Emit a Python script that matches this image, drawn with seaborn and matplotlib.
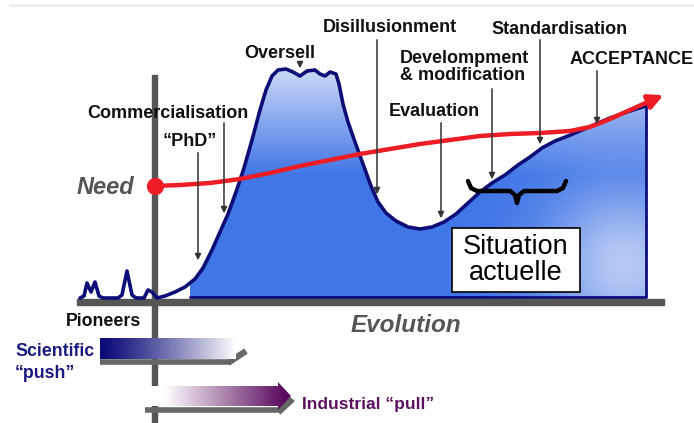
import numpy as np
import matplotlib.pyplot as plt
import seaborn as sns
from matplotlib.patches import Polygon, Rectangle
from matplotlib.colors import to_rgb

# ---- diagram data (image pixel space, y grows downward) ----
curve_x = [80, 84, 87, 91, 95, 99, 103, 118, 122, 127, 132, 136, 144, 148, 152, 157,
           165, 175, 185, 195, 203, 212, 220, 228, 236, 244, 252, 260, 266, 272, 278,
           286, 293, 300, 307, 315, 320, 325, 330, 336, 339, 343, 348, 355, 363, 371,
           378, 386, 396, 408, 420, 432, 444, 456, 468, 480, 492, 505, 518, 530, 542,
           555, 568, 582, 596, 610, 624, 636, 646]
curve_y = [298, 296, 283, 292, 282, 296, 298, 298, 295, 271, 295, 298, 298, 290, 292, 298,
           296, 292, 287, 279, 268, 250, 232, 214, 192, 168, 140, 110, 90, 76, 70,
           69, 72, 76, 71, 70, 74, 76, 72, 74, 84, 104, 122, 142, 164, 186,
           202, 213, 221, 227, 229, 227, 222, 214, 203, 192, 183, 175, 165, 157, 148,
           141, 136, 130, 124, 118, 113, 109, 106]

need_x = [155, 180, 210, 240, 270, 300, 330, 360, 390, 420, 450, 480, 510, 540, 570, 590, 610, 630, 650]
need_y = [186, 185, 183, 179, 173, 166, 160, 154, 149, 144, 140, 136, 134, 133, 131, 127, 119, 110, 101]

# stage labels: text, text x, text y, arrow x, arrow start y, arrow end y
stages = ["Oversell", "Commercialisation", "\u201cPhD\u201d", "Disillusionment",
          "Develompment\n& modification", "Evaluation", "Standardisation", "ACCEPTANCE"]
stage_tx = [280, 168, 190, 390, 400, 434, 560, 632]
stage_ty = [53, 113, 141, 28, 67, 111, 30, 60]
arrow_x = [300, 224, 198, 377, 492, 441, 540, 597]
arrow_y0 = [61, 120, 150, 37, 86, 120, 37, 68]
arrow_y1 = [71, 216, 263, 197, 182, 221, 147, 127]

brace_x = [468, 471, 477, 510, 515, 517, 519, 524, 557, 563, 566]
brace_y = [181, 188, 191, 191, 195, 203, 195, 191, 191, 188, 181]

fill_start = 190
fill_end = 646
base_y = 298

sns.set_style("white")
plt.rcParams['font.family'] = ['Liberation Sans', 'DejaVu Sans']

fig = plt.figure(figsize=(6.94, 4.23), dpi=100)
ax = fig.add_axes([0, 0, 1, 1])
ax.set_xlim(0, 694)
ax.set_ylim(423, 0)
ax.axis('off')

# faint top rule
ax.plot([10, 694], [5, 5], color='#eeeeee', lw=2, zorder=0)

# axes bars
axis_gray = '#555555'
ax.add_patch(Rectangle((152.5, 75), 5, 348, color=axis_gray, zorder=1))
ax.add_patch(Rectangle((77, 299), 587, 6, color=axis_gray, zorder=1))

# gradient fill under the curve
cx = np.array(curve_x, dtype=float)
cy = np.array(curve_y, dtype=float)
mask = (cx >= fill_start)
start_y = np.interp(fill_start, cx, cy)
poly_pts = [(fill_start, base_y), (fill_start, start_y)] + list(zip(cx[mask], cy[mask])) + [(fill_end, base_y)]
clip = Polygon(poly_pts, closed=True, facecolor='none', edgecolor='none')
ax.add_patch(clip)

gx, gy = np.meshgrid(np.linspace(fill_start, fill_end, 300), np.linspace(60, base_y, 200))
light = np.array(to_rgb('#dde5f8'))
blue = np.array(to_rgb('#4176e6'))
w = np.clip((gy - 55) / 120, 0, 1) * (1 - 0.75 * np.exp(-((gx - 625) ** 2 + (gy - 265) ** 2) / (2 * 55 ** 2)))
img = light + w[..., None] * (blue - light)
im = ax.imshow(img, extent=[fill_start, fill_end, base_y, 60], origin='upper', aspect='auto', zorder=2)
im.set_clip_path(clip)

# curve outline
navy = '#0d0d78'
sns.lineplot(x=curve_x, y=curve_y, sort=False, estimator=None, color=navy, lw=2.6, ax=ax, zorder=4)
ax.plot([fill_end, fill_end, fill_start], [curve_y[-1], base_y - 1, base_y - 1], color=navy, lw=2, zorder=4)

# need line (red)
red = '#ee1c24'
sns.lineplot(x=need_x, y=need_y, sort=False, estimator=None, color=red, lw=3.2, ax=ax, zorder=5)
ax.annotate('', xy=(666, 94), xytext=(need_x[-1], need_y[-1]),
            arrowprops=dict(arrowstyle='-|>', color=red, lw=3.2, mutation_scale=22), zorder=5)
ax.scatter([need_x[0]], [need_y[0]], s=130, color=red, zorder=6)

# stage labels and pointers
for lab, tx, ty, axx, y0, y1 in zip(stages, stage_tx, stage_ty, arrow_x, arrow_y0, arrow_y1):
    ha = 'left' if lab.startswith('Develompment') else 'center'
    ax.text(tx, ty, lab, ha=ha, va='center', fontsize=13, fontweight='bold', color='#111111',
            linespacing=1.0, zorder=7)
    ax.annotate('', xy=(axx, y1), xytext=(axx, y0),
                arrowprops=dict(arrowstyle='-|>', color='#333333', lw=1.1, mutation_scale=9), zorder=6)

# brace
sns.lineplot(x=brace_x, y=brace_y, sort=False, estimator=None, color='black', lw=3.2, ax=ax, zorder=6)

# current situation box
ax.add_patch(Rectangle((452, 228), 128, 64, facecolor='white', edgecolor='black', lw=1.2, zorder=7))
ax.text(516, 260, "Situation\nactuelle", ha='center', va='center', fontsize=19.5, color='black',
        linespacing=1.05, zorder=8)

ax.text(105, 187, "Need", ha='center', va='center', fontsize=17, fontweight='bold', style='italic',
        color='#555555', zorder=7)
ax.text(406, 326, "Evolution", ha='center', va='center', fontsize=17.5, fontweight='bold', style='italic',
        color='#555555', zorder=7)
ax.text(104, 322, "Pioneers", ha='center', va='center', fontsize=12.8, fontweight='bold', color='#111111')

# scientific push arrow
ax.plot([100, 229], [362, 362], color='#666666', lw=4, solid_capstyle='butt', zorder=2)
ax.plot([228, 246], [363, 351], color='#666666', lw=4.5, solid_capstyle='butt', zorder=2)
sci = np.linspace(0, 1, 256)
sci_col = np.array(to_rgb('#0a0a78'))
sw = np.clip(1 - sci ** 1.2, 0, 1)
sci_img = 1 - sw[None, :, None] * (1 - sci_col)[None, None, :]
ax.imshow(np.repeat(sci_img, 2, axis=0), extent=[100, 236, 359, 338], origin='upper', aspect='auto', zorder=3)
ax.text(15, 352, "Scientific", ha='left', va='center', fontsize=12.8, fontweight='bold', color='#1a1a80', zorder=4)
ax.text(15, 373, "\u201cpush\u201d", ha='left', va='center', fontsize=12.8, fontweight='bold', color='#1a1a80', zorder=4)

# industrial pull arrow
ax.plot([145, 282], [410, 410], color='#666666', lw=4, solid_capstyle='butt', zorder=2)
ax.add_patch(Polygon([(280, 390), (294, 401), (280, 414)], closed=True, color='#666666', zorder=2))
pull_clip = Polygon([(150, 386), (278, 386), (278, 382), (291, 396), (278, 410), (278, 406), (150, 406)],
                    closed=True, facecolor='none', edgecolor='none')
ax.add_patch(pull_clip)
pul_col = np.array(to_rgb('#5a0a5e'))
pw = np.clip((np.linspace(0, 1, 256) - 0.1) / 0.85, 0, 1)
pul_img = 1 - pw[None, :, None] * (1 - pul_col)[None, None, :]
pim = ax.imshow(np.repeat(pul_img, 2, axis=0), extent=[150, 292, 411, 381], origin='upper', aspect='auto', zorder=3)
pim.set_clip_path(pull_clip)
ax.text(302, 404, "Industrial \u201cpull\u201d", ha='left', va='center', fontsize=12.5, fontweight='bold', color='#5c1060')

fig.savefig('out.png', dpi=100)
